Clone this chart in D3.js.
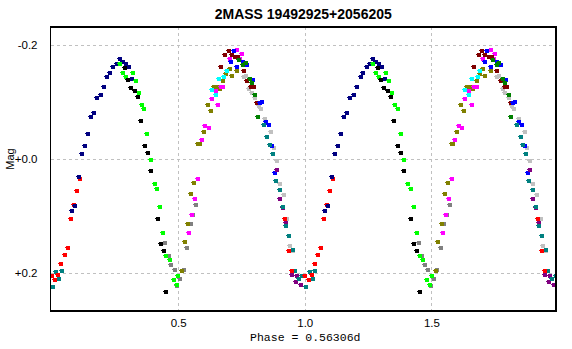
<!DOCTYPE html>
<html><head><meta charset="utf-8">
<script src="https://cdn.jsdelivr.net/npm/d3@7"></script>
<style>html,body{margin:0;padding:0;background:#fff;}svg{display:block;}</style>
</head><body>
<script>
// ---- data: [phase, mag] per dataset (phase 0..1, repeated for 1..2) ----
const title = "2MASS 19492925+2056205";
const xTicks = [0.5, 1.0, 1.5];
const xTickLabels = ["0.5", "1.0", "1.5"];
const yTicks = [-0.2, 0.0, 0.2];
const yTickLabels = ["-0.2", "+0.0", "+0.2"];
const xLabel = "Phase = 0.56306d";
const yLabel = "Mag";

const gray = [[0.450,0.147],[0.463,0.170],[0.473,0.186],[0.486,0.195],[0.497,0.222],[0.509,0.210],[0.524,0.195],[0.536,0.157],[0.549,0.114],[0.560,0.099],[0.572,0.080]];
const olive = [[0.703,-0.158],[0.734,-0.155],[0.690,-0.150],[0.713,-0.146],[0.679,-0.137],[0.666,-0.123],[0.653,-0.127],[0.640,-0.127],[0.616,-0.094],[0.628,-0.085],[0.603,-0.048],[0.587,-0.027],[0.580,-0.027],[0.564,0.042],[0.552,0.061],[0.540,0.114],[0.528,0.145],[0.517,0.196]];
const magenta = [[0.734,-0.191],[0.752,-0.184],[0.746,-0.176],[0.705,-0.176],[0.679,-0.127],[0.669,-0.127],[0.648,-0.119],[0.632,-0.105],[0.659,-0.095],[0.608,-0.058],[0.621,-0.055],[0.595,-0.034],[0.580,0.035],[0.568,0.071],[0.556,0.098],[0.544,0.129]];
const cyan = [[0.692,-0.154],[0.683,-0.143],[0.661,-0.140],[0.633,-0.121],[0.648,-0.112]];
const maroon = [[0.699,-0.190],[0.686,-0.183],[0.712,-0.183],[0.726,-0.179],[0.738,-0.179],[0.670,-0.162],[0.761,-0.155],[0.773,-0.137],[0.800,-0.127],[0.789,-0.126],[0.813,-0.098]];
const blue = [[0.721,-0.190],[0.710,-0.170],[0.758,-0.171],[0.773,-0.165],[0.734,-0.162],[0.794,-0.139],[0.831,-0.100],[0.823,-0.099],[0.847,-0.065],[0.857,-0.060],[0.871,-0.023],[0.881,0.024]];
const darkgreen = [[0.742,-0.174],[0.768,-0.169],[0.758,-0.165],[0.784,-0.141],[0.792,-0.134],[0.805,-0.113],[0.815,-0.074]];
const silver = [[0.760,-0.143],[0.768,-0.146],[0.781,-0.123],[0.792,-0.116],[0.805,-0.107],[0.818,-0.093],[0.828,-0.088],[0.844,-0.071],[0.868,-0.048],[0.879,-0.020],[0.891,0.004],[0.902,0.043],[0.917,0.064],[0.931,0.105],[0.942,0.152],[0.954,0.161]];
const purple = [[0.891,0.020],[0.902,0.070],[0.915,0.086],[0.925,0.112],[0.950,0.204],[0.970,0.206],[0.965,0.215],[0.984,0.221]];
const teal = [[0.019,0.198],[0.042,0.196],[0.031,0.210],[0.004,0.224],[0.839,-0.060],[0.852,-0.039],[0.862,-0.025],[0.875,-0.008],[0.886,0.038],[0.902,0.054],[0.915,0.084],[0.925,0.117],[0.938,0.135],[0.952,0.159],[0.961,0.196],[0.976,0.211],[0.991,0.205]];
const red = [[0.113,0.035],[0.101,0.057],[0.087,0.081],[0.077,0.106],[0.066,0.156],[0.054,0.168],[0.039,0.185],[0.027,0.203],[0.015,0.213],[0.001,0.205],[0.921,0.105],[0.938,0.161],[0.948,0.196]];
const navy = [[0.270,-0.175],[0.283,-0.171],[0.257,-0.167],[0.244,-0.162],[0.294,-0.167],[0.305,-0.162],[0.231,-0.151],[0.221,-0.144],[0.318,-0.140],[0.208,-0.127],[0.194,-0.113],[0.179,-0.107],[0.168,-0.081],[0.155,-0.074],[0.145,-0.044],[0.133,-0.022],[0.121,-0.009],[0.108,0.031],[0.092,0.082],[0.081,0.092]];
const lime = [[0.270,-0.167],[0.281,-0.151],[0.294,-0.143],[0.320,-0.151],[0.333,-0.137],[0.344,-0.116],[0.357,-0.095],[0.367,-0.088],[0.379,-0.044],[0.391,0.001],[0.408,0.043],[0.418,0.052],[0.430,0.084],[0.442,0.129],[0.454,0.171],[0.466,0.178],[0.483,0.212],[0.494,0.221],[0.501,0.205]];
const black = [[0.290,-0.160],[0.302,-0.139],[0.312,-0.125],[0.328,-0.120],[0.340,-0.109],[0.352,-0.067],[0.369,-0.023],[0.380,-0.011],[0.391,0.021],[0.420,0.105],[0.431,0.150],[0.443,0.161],[0.454,0.233]];

const seriesList = [
  {name:"gray", color:"#808080", data:gray},
  {name:"olive", color:"#808000", data:olive},
  {name:"magenta", color:"#ff00ff", data:magenta},
  {name:"cyan", color:"#00ffff", data:cyan},
  {name:"silver", color:"#c0c0c0", data:silver},
  {name:"maroon", color:"#800000", data:maroon},
  {name:"blue", color:"#0000ff", data:blue},
  {name:"darkgreen", color:"#008000", data:darkgreen},
  {name:"purple", color:"#800080", data:purple},
  {name:"teal", color:"#008080", data:teal},
  {name:"red", color:"#ff0000", data:red},
  {name:"navy", color:"#000080", data:navy},
  {name:"lime", color:"#00ff00", data:lime},
  {name:"black", color:"#000000", data:black}
];

// ---- layout ----
const W = 572, H = 349;
const L = 50.5, R = 556, T = 27, B = 311;

const x = d3.scaleLinear().domain([-0.004, 1.992]).range([L, R]);
const y = d3.scaleLinear().domain([-0.2316, 0.2667]).range([T, B]);

const svg = d3.select("body").append("svg").attr("width", W).attr("height", H);

// title
svg.append("text").attr("x", (L+R)/2).attr("y", 19).attr("text-anchor","middle")
  .style("font-family","Arial, 'Liberation Sans', sans-serif").style("font-weight","bold").style("font-size","14px")
  .text(title);

// grid
const grid = svg.append("g").attr("stroke","#c0c0c0").attr("stroke-dasharray","3,3").attr("shape-rendering","crispEdges");
xTicks.forEach(t => grid.append("line").attr("x1",Math.round(x(t))+0.5).attr("x2",Math.round(x(t))+0.5).attr("y1",T).attr("y2",B));
yTicks.forEach(t => grid.append("line").attr("y1",Math.round(y(t))+0.5).attr("y2",Math.round(y(t))+0.5).attr("x1",L).attr("x2",R));

// axes (labels only, no tick marks)
const xAxis = d3.axisBottom(x).tickValues(xTicks).tickFormat((d,i)=>xTickLabels[i]).tickSize(0).tickPadding(8);
const gx = svg.append("g").attr("transform",`translate(0,${B})`).call(xAxis);
gx.select(".domain").remove();
gx.selectAll("text").style("font-family","Arial, 'Liberation Sans', sans-serif").style("font-size","11.5px").attr("fill","#000");

const yAxis = d3.axisLeft(y).tickValues(yTicks).tickFormat((d,i)=>yTickLabels[i]).tickSize(0).tickPadding(13);
const gy = svg.append("g").attr("transform",`translate(${L},0)`).call(yAxis);
gy.select(".domain").remove();
gy.selectAll("text").style("font-family","Arial, 'Liberation Sans', sans-serif").style("font-size","11.5px").attr("fill","#000");

// axis titles
svg.append("text").attr("x",(L+R)/2+2).attr("y",341).attr("text-anchor","middle")
  .style("font-family","'Liberation Mono', 'Courier New', monospace").style("font-size","11.5px")
  .text(xLabel);
svg.append("text").attr("transform",`translate(14,${y(0)}) rotate(-90)`).attr("text-anchor","middle")
  .style("font-family","Arial, 'Liberation Sans', sans-serif").style("font-size","11px")
  .text(yLabel);

// points
svg.append("clipPath").attr("id","clip").append("rect").attr("x",L).attr("y",T).attr("width",R-L).attr("height",B-T);
const pts = svg.append("g").attr("clip-path","url(#clip)").attr("shape-rendering","crispEdges");
const marker = "M-2,-2h4v4h-4zM-3,-1h1v1h-1z";
seriesList.forEach(s => {
  const all = s.data.map(d => [d[0], d[1]]).concat(s.data.map(d => [d[0]+1, d[1]]));
  pts.selectAll(null).data(all).enter().append("path")
    .attr("d", marker)
    .attr("transform", d => `translate(${Math.round(x(d[0]))},${Math.round(y(d[1]))})`)
    .attr("fill", s.color);
});

// frame
svg.append("rect").attr("x",L).attr("y",T).attr("width",R-L).attr("height",B-T)
  .attr("fill","none").attr("stroke","#000").attr("stroke-width",1.5).attr("shape-rendering","crispEdges");
</script>
</body></html>
